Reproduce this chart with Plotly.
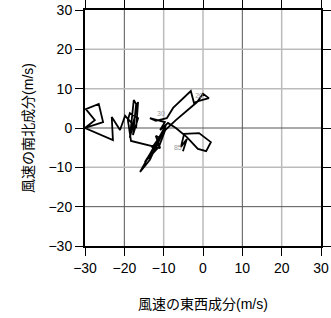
import plotly.graph_objects as go

# hodograph wind components (m/s)
u = [-5.1, -4.1, -5.6, -4.8, -1.0, 2.0, 0.8, -1.3, -4.1, -6.9, -8.9, -10.9, -9.7, -13.5, -12.0,
     -9.2, -7.6, -3.1, -2.3, -1.0, 1.5, 0.0, -1.5, -6.9, -10.4, -13.5, -16.0, -11.5, -9.4, -12.2,
     -14.0, -10.2, -13.0, -9.4, -11.2, -14.8, -10.9, -12.0, -10.9, -18.3, -19.1, -18.6, -16.5,
     -17.8, -17.0, -17.6, -18.6, -16.5, -17.0, -19.8, -21.1, -23.2, -22.9, -30.0, -25.4, -26.5,
     -29.8, -27.5, -30.0]
v = [-5.9, -2.8, -4.8, -1.5, -1.3, -3.6, -5.9, -5.3, -2.3, 0.0, 1.3, -0.5, 1.5, 2.5, 1.8,
     2.5, 5.1, 9.4, 6.4, 6.9, 7.6, 8.7, 6.6, 2.0, -1.3, -8.1, -11.2, -3.1, 0.8, -5.6,
     -7.4, -1.3, -5.1, 0.0, -4.8, -8.7, -2.5, -2.0, -5.1, -3.3, 2.0, 3.8, 2.5,
     -1.8, 6.1, 7.1, -2.5, 6.6, 0.0, 3.1, -0.5, 2.8, -3.1, 0.0, 1.5, 6.1,
     4.8, 2.0, 0.0]

label_text = ["20", "30", "85"]
label_u = [-1.0, -10.7, -6.4]
label_v = [8.1, 3.6, -5.1]

ticks = [-30, -20, -10, 0, 10, 20, 30]
dark_x = [-20, 10]
light_x = [-10, 0, 20]
dark_y = [0, -20]
light_y = [20, 10, -10]

font = "Liberation Sans, Arial, Noto Sans CJK JP, sans-serif"

fig = go.Figure()
fig.add_trace(go.Scatter(x=u, y=v, mode="lines",
                         line=dict(color="black", width=1.8), showlegend=False,
                         hoverinfo="skip"))
fig.add_trace(go.Scatter(x=label_u, y=label_v, mode="text", text=label_text,
                         textfont=dict(size=7, color="#999999", family=font),
                         showlegend=False))

shapes = []
for xv in dark_x:
    shapes.append(dict(type="line", x0=xv, x1=xv, y0=-30, y1=30, layer="below",
                       line=dict(color="#555555", width=1)))
for xv in light_x:
    shapes.append(dict(type="line", x0=xv, x1=xv, y0=-30, y1=30, layer="below",
                       line=dict(color="#bbbbbb", width=1.5)))
for yv in dark_y:
    shapes.append(dict(type="line", y0=yv, y1=yv, x0=-30, x1=30, layer="below",
                       line=dict(color="#555555", width=1)))
for yv in light_y:
    shapes.append(dict(type="line", y0=yv, y1=yv, x0=-30, x1=30, layer="below",
                       line=dict(color="#bbbbbb", width=1.5)))

axis_common = dict(range=[-30, 30], tickvals=ticks, showgrid=False, zeroline=False,
                   showline=True, linecolor="black", linewidth=2, mirror="ticks",
                   ticks="outside", ticklen=8, tickwidth=1, tickcolor="black",
                   automargin=False,
                   tickfont=dict(size=14, color="black", family=font))

fig.update_layout(
    width=331, height=318,
    margin=dict(l=85, r=10, t=10, b=72, autoexpand=False),
    paper_bgcolor="white", plot_bgcolor="white",
    shapes=shapes,
    xaxis=dict(**axis_common,
               title=dict(text="風速の東西成分(m/s)", standoff=24,
                          font=dict(size=14, color="black", family=font))),
    yaxis=dict(**axis_common,
               title=dict(text="風速の南北成分(m/s)", standoff=12,
                          font=dict(size=14, color="black", family=font))),
)

fig.write_html("out.html")
